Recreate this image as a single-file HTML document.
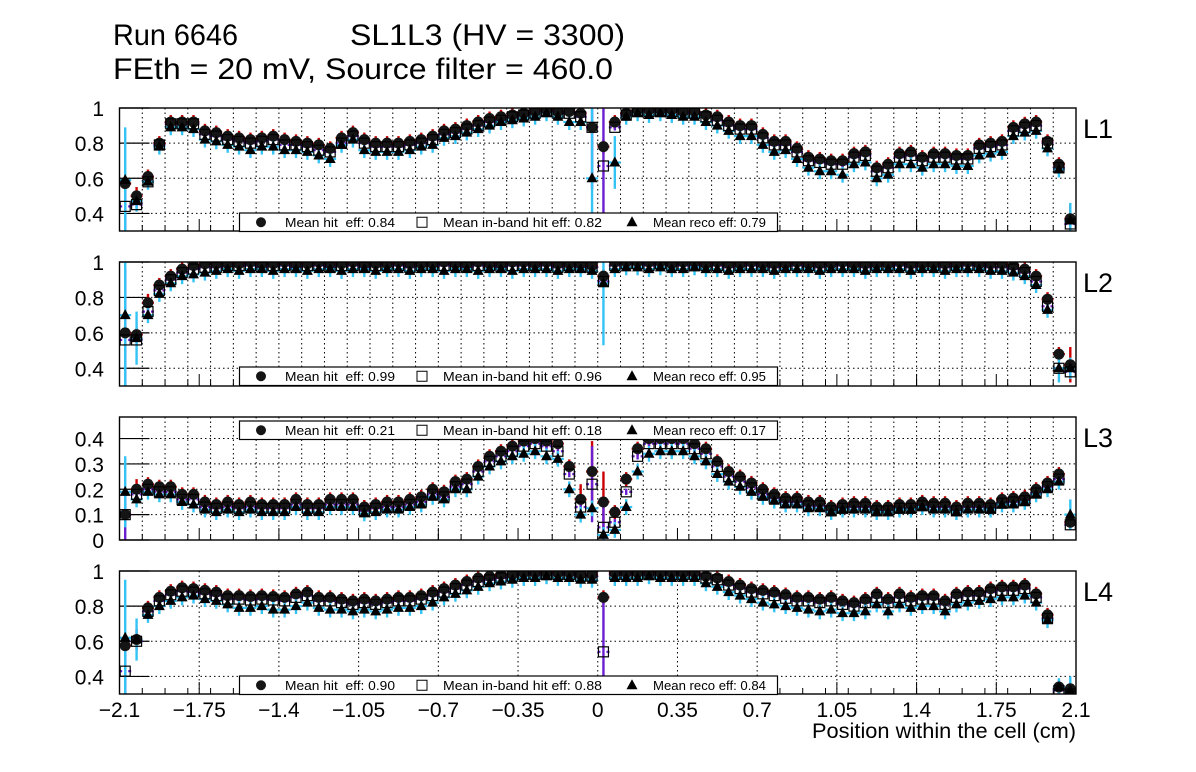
<!DOCTYPE html>
<html><head><meta charset="utf-8"><style>
html,body{margin:0;padding:0;background:#fff;}
svg{display:block;font-family:"Liberation Sans",Arial,sans-serif;}
</style></head><body>
<svg id="chart" width="1196" height="772" viewBox="0 0 1196 772" xmlns="http://www.w3.org/2000/svg">
<rect x="0" y="0" width="1196" height="772" fill="#fff"/>
<text x="113" y="45" font-size="30" textLength="125" lengthAdjust="spacingAndGlyphs">Run 6646</text>
<text x="350" y="45" font-size="30" textLength="275" lengthAdjust="spacingAndGlyphs">SL1L3 (HV = 3300)</text>
<text x="113" y="79" font-size="30" textLength="500" lengthAdjust="spacingAndGlyphs">FEth = 20 mV, Source filter = 460.0</text>
<text x="1076" y="738" font-size="21" text-anchor="end" textLength="264" lengthAdjust="spacingAndGlyphs">Position within the cell (cm)</text>
<g id="panels"></g>
</svg>
<script>
// ---- data (bin centres -2.075 ... 2.075, step 0.05) ----
const binStart = -2.075, binStep = 0.05, nBins = 84;
const xTickLabels = ["\u22122.1","\u22121.75","\u22121.4","\u22121.05","\u22120.7","\u22120.35","0","0.35","0.7","1.05","1.4","1.75","2.1"];
const xTickValues = [-2.1,-1.75,-1.4,-1.05,-0.7,-0.35,0,0.35,0.7,1.05,1.4,1.75,2.1];
const panelLabels = ["L1","L2","L3","L4"];
const meanHit = ["0.84","0.99","0.21","0.90"];
const meanInBand = ["0.82","0.96","0.18","0.88"];
const meanReco = ["0.79","0.95","0.17","0.84"];

const l1Hit = [.57,.50,.61,.80,.92,.92,.92,.87,.86,.84, .83,.82,.83,.84,.82,.81,.80,.79,.77,.83, .86,.82,.80,.80,.80,.81,.82,.84,.87,.88, .90,.92,.94,.95,.96,.97,.98,.99,.98,.98, .97,.89,.78,.92,.97,.99,.99,.99,.99,.98, .98,.96,.95,.92,.90,.90,.85,.81,.81,.77, .72,.71,.70,.70,.74,.75,.66,.68,.74,.75, .72,.74,.74,.73,.73,.79,.80,.81,.89,.91, .92,.81,.68,.37];
const l1InBand = [.44,.45,.58,.79,.91,.91,.91,.85,.84,.82, .81,.80,.81,.82,.79,.79,.78,.76,.75,.80, .84,.80,.78,.78,.78,.79,.80,.82,.85,.86, .88,.90,.92,.93,.95,.96,.97,.98,.97,.97, .95,.89,.67,.89,.96,.98,.98,.98,.98,.97, .97,.95,.93,.90,.88,.88,.83,.79,.79,.75, .70,.69,.68,.68,.72,.73,.64,.66,.72,.73, .70,.72,.72,.71,.71,.77,.78,.79,.87,.89, .90,.80,.66,.34];
const l1Reco = [.59,.47,.58,.78,.89,.89,.88,.82,.81,.79, .78,.76,.78,.78,.76,.76,.75,.73,.71,.79, .82,.76,.75,.75,.75,.76,.78,.79,.83,.84, .86,.88,.90,.92,.93,.94,.95,.97,.95,.92, .92,.60,.10,.69,.95,.97,.96,.97,.96,.95, .95,.92,.90,.87,.84,.84,.79,.75,.76,.71, .66,.64,.64,.62,.68,.69,.60,.62,.68,.68, .66,.68,.68,.67,.67,.73,.74,.75,.84,.86, .87,.77,.65,.36];

const l2Hit = [.60,.59,.77,.87,.92,.96,.98,.99,.99,.99, .99,1.0,.99,.99,1.0,.99,.99,1.0,.99,.99, 1.0,.99,.99,.99,1.0,.99,.99,.99,1.0,.99, .99,1.0,.99,.99,1.0,1.0,.99,1.0,.99,.99, .99,.98,.92,1.0,1.0,1.0,1.0,1.0,.99,1.0, 1.0,.99,1.0,.99,.99,1.0,.99,.99,.99,1.0, .99,.99,.99,1.0,.99,.99,.99,.99,1.0,.99, .99,.99,.99,.99,1.0,.99,.99,.99,.98,.96, .92,.79,.48,.42];
const l2InBand = [.56,.56,.72,.84,.90,.94,.96,.97,.97,.98, .98,.98,.97,.98,.98,.97,.98,.98,.97,.98, .98,.97,.98,.98,.98,.97,.98,.98,.98,.98, .97,.98,.98,.97,.98,.98,.98,.98,.97,.98, .97,.97,.89,.98,.99,.99,.98,.99,.98,.98, .98,.98,.98,.97,.98,.98,.98,.97,.98,.98, .98,.97,.98,.98,.98,.97,.98,.98,.98,.97, .98,.98,.97,.98,.98,.98,.97,.97,.96,.94, .89,.75,.40,.38];
const l2Reco = [.70,.57,.70,.82,.88,.92,.93,.94,.95,.96, .95,.96,.96,.95,.96,.96,.95,.96,.96,.95, .96,.96,.95,.96,.96,.95,.96,.96,.95,.96, .96,.95,.96,.96,.95,.96,.96,.96,.95,.96, .96,.95,.88,.96,.97,.97,.96,.97,.96,.96, .97,.96,.96,.95,.96,.96,.96,.95,.96,.96, .96,.95,.96,.96,.96,.95,.96,.96,.96,.95, .96,.96,.95,.96,.96,.96,.95,.95,.94,.92, .87,.73,.40,.40];

const l3Hit = [.10,.20,.22,.21,.21,.18,.18,.15,.14,.15, .14,.15,.14,.14,.14,.16,.14,.14,.16,.16, .16,.13,.14,.15,.15,.16,.17,.20,.19,.23, .24,.29,.33,.35,.37,.39,.40,.39,.38,.29, .16,.27,.15,.11,.24,.36,.40,.40,.40,.40, .38,.36,.31,.27,.25,.225,.20,.18,.165,.165, .15,.15,.13,.14,.145,.145,.13,.13,.14,.14, .15,.145,.145,.13,.145,.145,.14,.16,.165,.17, .20,.225,.26,.07];
const l3InBand = [.10,.18,.20,.19,.19,.16,.16,.13,.125,.13, .125,.13,.125,.125,.125,.14,.125,.125,.14,.14, .14,.115,.125,.13,.13,.14,.15,.18,.17,.21, .22,.27,.31,.33,.35,.37,.38,.37,.35,.26, .13,.22,.05,.07,.19,.33,.38,.38,.38,.38, .36,.34,.29,.25,.23,.205,.18,.165,.15,.15, .135,.135,.115,.125,.13,.13,.115,.115,.125,.125, .135,.13,.13,.115,.13,.13,.125,.145,.15,.155, .185,.21,.24,.06];
const l3Reco = [.19,.16,.19,.18,.18,.15,.14,.12,.11,.12, .11,.12,.11,.11,.11,.13,.11,.11,.13,.13, .13,.105,.11,.12,.12,.13,.14,.17,.16,.20, .20,.25,.29,.31,.33,.34,.35,.33,.32,.20, .10,.125,.02,.04,.13,.27,.34,.35,.35,.35, .33,.31,.26,.23,.21,.19,.17,.155,.14,.14, .125,.125,.11,.12,.12,.12,.11,.11,.12,.12, .13,.12,.12,.11,.12,.12,.12,.14,.14,.15, .18,.20,.23,.10];

const l4Hit = [.575,.61,.79,.85,.885,.905,.90,.89,.88,.86, .86,.855,.86,.855,.85,.87,.88,.85,.85,.84, .83,.84,.83,.84,.85,.85,.86,.88,.90,.92, .94,.96,.97,.98,.98,.99,.99,.99,.99,.99, .98,.98,.85,.99,.99,.99,.99,.99,.99,.99, .99,.97,.96,.94,.92,.90,.89,.88,.866,.85, .85,.84,.85,.83,.82,.84,.87,.84,.87,.85, .86,.86,.83,.87,.88,.88,.90,.91,.91,.92, .87,.75,.34,.33];
const l4InBand = [.43,.60,.77,.83,.865,.885,.88,.87,.86,.84, .84,.835,.84,.835,.83,.85,.86,.83,.83,.82, .81,.82,.81,.82,.83,.83,.84,.86,.88,.90, .92,.94,.95,.96,.97,.98,.98,.98,.98,.98, .97,.97,.54,.98,.98,.98,.98,.98,.98,.98, .98,.96,.95,.92,.90,.88,.87,.86,.845,.83, .83,.82,.83,.81,.80,.82,.85,.82,.85,.83, .84,.84,.81,.85,.86,.86,.88,.89,.89,.90, .85,.73,.32,.30];
const l4Reco = [.62,.61,.75,.80,.83,.85,.86,.84,.83,.81, .79,.79,.80,.78,.78,.80,.82,.79,.78,.78, .77,.78,.77,.78,.79,.79,.80,.82,.85,.87, .89,.91,.93,.94,.95,.96,.96,.97,.96,.96, .95,.95,.20,.96,.96,.96,.97,.96,.96,.96, .96,.93,.91,.88,.86,.84,.82,.81,.80,.79, .78,.77,.78,.76,.76,.77,.81,.77,.81,.79, .80,.80,.77,.81,.82,.83,.84,.85,.85,.86, .82,.72,.34,.32];

// ---- layout ----
const X0 = 119.5, X1 = 1076, XMIN = -2.1, XMAX = 2.1;
const panels = [
  {top:108, bot:231, ymin:0.3, ymax:1.0, yt:[0.4,0.6,0.8,1.0], ytl:["0.4","0.6","0.8","1"], legY:213, hit:l1Hit, sq:l1InBand, reco:l1Reco,
   big:{reco:{0:.30,1:.06,41:.40,43:.15,83:.10}, sq:{0:.15,41:.35,42:.5}, hit:{1:.05,83:.08}}},
  {top:262, bot:386, ymin:0.3, ymax:1.0, yt:[0.4,0.6,0.8,1.0], ytl:["0.4","0.6","0.8","1"], legY:367, hit:l2Hit, sq:l2InBand, reco:l2Reco,
   big:{reco:{0:.4,1:.15,42:.35,82:.08,83:.06}, sq:{0:.4}, hit:{2:.05,83:.1}}},
  {top:417, bot:540, ymin:0.0, ymax:0.485, yt:[0,0.1,0.2,0.3,0.4], ytl:["0","0.1","0.2","0.3","0.4"], legY:421, hit:l3Hit, sq:l3InBand, reco:l3Reco,
   big:{reco:{0:.14,83:.06}, sq:{0:.1,41:.15,42:.12}, hit:{1:.04,40:.06,41:.12,42:.12}}},
  {top:571, bot:694, ymin:0.3, ymax:1.0, yt:[0.4,0.6,0.8,1.0], ytl:["0.4","0.6","0.8","1"], legY:676, hit:l4Hit, sq:l4InBand, reco:l4Reco,
   big:{reco:{0:.33,1:.12,82:.05,83:.08}, sq:{0:.15,42:.3}, hit:{1:.06}}}
];
const NS = "http://www.w3.org/2000/svg";
const sx = v => X0 + (v - XMIN) / (XMAX - XMIN) * (X1 - X0);
function mk(tag, attrs, parent){ const e=document.createElementNS(NS,tag); for(const k in attrs) e.setAttribute(k,attrs[k]); parent.appendChild(e); return e; }
const root = document.getElementById('panels');

panels.forEach((p, pi) => {
  const sy = v => p.bot - (v - p.ymin) / (p.ymax - p.ymin) * (p.bot - p.top);
  const g = mk('g', {}, root);
  
  
  const cid = 'clip' + pi;
  const cp = mk('clipPath', {id: cid}, g);
  mk('rect', {x: X0, y: p.top, width: X1 - X0, height: p.bot - p.top}, cp);
  const grid = mk('g', {stroke:'#000','stroke-width':1,'stroke-dasharray':'1.5 3'}, g);
  
  
  if (pi < 3) { for (let i = 1; i < 42; i++) { const x = sx(-2.1 + i * 0.1); mk('line', {x1:x, x2:x, y1:p.top, y2:p.bot}, grid); } }
  else { xTickValues.slice(1, -1).forEach(v => mk('line', {x1:sx(v), x2:sx(v), y1:p.top, y2:p.bot}, grid)); }
  p.yt.forEach(v => { if (v > p.ymin && v < p.ymax) mk('line', {x1:X0, x2:X1, y1:sy(v), y2:sy(v)}, grid); });
  p.yt.forEach((v, i) => {
    mk('line', {x1:X0, x2:X0 + 30, y1:sy(v), y2:sy(v), stroke:'#000','stroke-width':1.2}, g);
    const t = mk('text', {x:104, y:sy(v) + 8, 'font-size':21, 'text-anchor':'end'}, g);
    
    
    t.textContent = p.ytl[i];
  });
  for (let i = 1; i < 42; i++) { const x = sx(-2.1 + i * 0.1); mk('line', {x1:x, x2:x, y1:p.bot, y2:p.bot - 6, stroke:'#000'}, g); }
  xTickValues.forEach(v => mk('line', {x1:sx(v), x2:sx(v), y1:p.bot, y2:p.bot - 12, stroke:'#000'}, g));
  const data = mk('g', {'clip-path': 'url(#' + cid + ')'}, g);
  const series = [
    {arr:p.hit, col:'#cc0000', e:0.04, key:'hit'},
    {arr:p.sq, col:'#6a1fd0', e:0.018, key:'sq'},
    {arr:p.reco, col:'#33c3f5', e:0.045, key:'reco'}
  ];
  series.forEach(s => {
    s.arr.forEach((v, k) => {
      const x = sx(binStart + k * binStep);
      const e = (p.big[s.key] && p.big[s.key][k] !== undefined) ? p.big[s.key][k] : s.e * (p.ymax - p.ymin) / 0.7;
      const eb = mk('line', {x1:x, x2:x, y1:sy(v - e), y2:sy(v + e), stroke:s.col, 'stroke-width':2.4}, data);
      
      
      mk('line', {x1:x - 6, x2:x - 3, y1:sy(v), y2:sy(v), stroke:s.col, 'stroke-width':2.2}, data);
      mk('line', {x1:x + 3, x2:x + 6, y1:sy(v), y2:sy(v), stroke:s.col, 'stroke-width':2.2}, data);
    });
  });
  p.hit.forEach((v, k) => {
    const c = mk('circle', {cx:sx(binStart + k * binStep), cy:sy(v), r:5.5, fill:'#151515'}, data);
    
    
  });
  p.sq.forEach((v, k) => {
    const x = sx(binStart + k * binStep), y = sy(v);
    const r = mk('rect', {x:x - 5, y:y - 5, width:10, height:10, fill:'none', stroke:'#000', 'stroke-width':1.2}, data);
    
    
  });
  p.reco.forEach((v, k) => {
    const x = sx(binStart + k * binStep), y = sy(v);
    const t = mk('polygon', {points:`${x},${y - 6} ${x - 5.5},${y + 4} ${x + 5.5},${y + 4}`, fill:'#000'}, data);
    
    
  });
  const fr = mk('rect', {x:X0, y:p.top, width:X1 - X0, height:p.bot - p.top, fill:'none', stroke:'#000', 'stroke-width':1.4}, g);
  
  
  const lg = mk('g', {}, g);
  
  
  const ly = p.legY, lh = 18.5, lc = ly + lh / 2;
  mk('rect', {x:239.5, y:ly, width:538, height:lh, fill:'#fff', stroke:'#000', 'stroke-width':1.2}, lg);
  mk('circle', {cx:261, cy:lc, r:5, fill:'#151515'}, lg);
  const t1 = mk('text', {x:285, y:lc + 4.5, 'font-size':12.5, textLength:110, lengthAdjust:'spacingAndGlyphs'}, lg);
  
  
  t1.textContent = 'Mean hit  eff: ' + meanHit[pi];
  t1.style.whiteSpace = 'pre';
  mk('rect', {x:417, y:lc - 5, width:10, height:10, fill:'none', stroke:'#000'}, lg);
  const t2 = mk('text', {x:443, y:lc + 4.5, 'font-size':12.5, textLength:159, lengthAdjust:'spacingAndGlyphs'}, lg);
  
  
  t2.textContent = 'Mean in-band hit eff: ' + meanInBand[pi];
  mk('polygon', {points:`632,${lc - 6} 626.5,${lc + 4} 637.5,${lc + 4}`, fill:'#000'}, lg);
  const t3 = mk('text', {x:653, y:lc + 4.5, 'font-size':12.5, textLength:113, lengthAdjust:'spacingAndGlyphs'}, lg);
  
  
  t3.textContent = 'Mean reco eff: ' + meanReco[pi];
  const pl = mk('text', {x:1083, y:p.top + 30, 'font-size':27}, g);
  
  
  pl.textContent = panelLabels[pi];
});
xTickValues.forEach((v, i) => {
  const t = mk('text', {x:sx(v), y:717, 'font-size':21, 'text-anchor':'middle'}, root);
  
  
  t.textContent = xTickLabels[i];
});
</script>
</body></html>
